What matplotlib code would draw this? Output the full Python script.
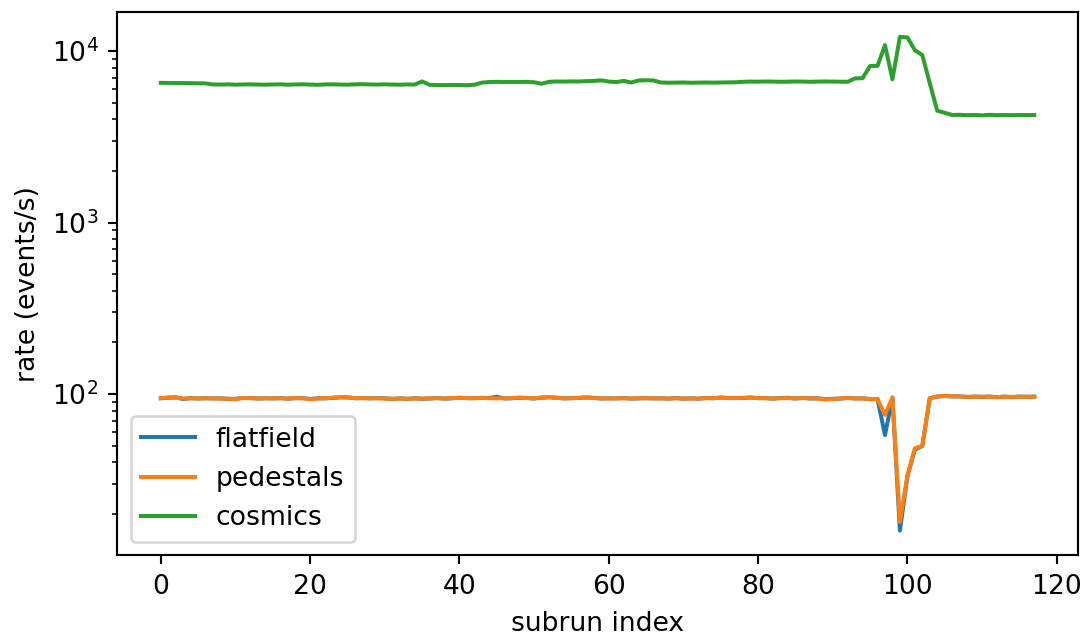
import matplotlib
matplotlib.use('Agg')
import matplotlib.pyplot as plt
import numpy as np

# rates per subrun (events/s)
pedestals = [
    94.8, 95.6, 95.2, 94.3, 94.5, 94.6, 94.4, 94.5, 94.2, 94.0,
    93.5, 95.0, 94.6, 94.5, 94.4, 94.6, 94.5, 94.3, 94.8, 94.5,
    93.4, 94.2, 94.7, 95.3, 96.0, 95.5, 94.8, 94.6, 94.7, 94.5,
    94.2, 94.0, 94.1, 94.0, 94.3, 94.2, 94.5, 94.6, 94.4, 94.8,
    95.0, 94.9, 94.5, 95.2, 94.6, 94.4, 94.6, 94.8, 95.4, 94.7,
    94.5, 95.6, 96.1, 95.0, 94.6, 94.5, 95.2, 95.8, 94.8, 94.5,
    94.3, 94.6, 94.5, 94.4, 94.7, 94.5, 94.6, 94.3, 94.4, 94.5,
    94.3, 94.2, 94.3, 94.6, 94.8, 95.2, 95.0, 94.6, 95.1, 95.3,
    94.9, 94.5, 94.4, 94.6, 94.8, 94.5, 94.7, 94.6, 94.2, 93.2,
    93.6, 94.4, 94.8, 94.6, 94.2, 93.8, 93.5, 75.6, 95.7, 18.0,
    33.5, 48.2, 50.0, 94.4, 97.0, 97.4, 97.2, 96.8, 96.5, 96.4,
    96.6, 96.5, 96.2, 96.4, 96.3, 96.5, 96.6, 96.4,
]

flatfield = [
    94.5, 95.2, 95.8, 93.6, 94.8, 94.2, 94.7, 94.3, 94.5, 93.8,
    93.9, 94.8, 94.9, 94.2, 94.6, 94.3, 94.8, 94.0, 94.6, 94.8,
    93.7, 94.5, 94.4, 95.0, 95.7, 95.8, 94.5, 94.9, 94.4, 94.8,
    94.5, 93.7, 94.4, 93.8, 94.6, 93.9, 94.2, 94.9, 94.1, 94.5,
    95.3, 94.6, 94.8, 94.9, 94.9, 96.6, 94.3, 94.5, 95.1, 95.0,
    94.2, 95.3, 95.8, 95.3, 94.3, 94.8, 94.9, 95.5, 95.1, 94.2,
    94.6, 94.3, 94.8, 94.1, 94.4, 94.8, 94.3, 94.6, 94.1, 94.8,
    94.0, 94.5, 94.0, 94.9, 94.5, 95.5, 94.7, 94.9, 94.8, 95.6,
    94.6, 94.8, 94.1, 94.9, 95.1, 94.2, 95.0, 94.3, 94.5, 93.5,
    93.9, 94.1, 95.1, 94.3, 94.5, 93.5, 93.8, 57.7, 95.5, 16.0,
    33.0, 47.5, 49.8, 94.7, 96.7, 97.7, 96.9, 97.1, 96.2, 96.7,
    96.3, 96.8, 95.9, 96.7, 96.0, 96.8, 96.3, 96.7,
]

cosmics = [
    6530, 6520, 6510, 6510, 6500, 6490, 6480, 6390, 6380, 6400,
    6370, 6390, 6400, 6380, 6370, 6390, 6400, 6370, 6390, 6400,
    6380, 6360, 6390, 6400, 6380, 6370, 6400, 6410, 6390, 6380,
    6400, 6380, 6370, 6390, 6380, 6650, 6360, 6340, 6330, 6350,
    6340, 6330, 6360, 6550, 6600, 6620, 6600, 6610, 6600, 6620,
    6580, 6450, 6620, 6650, 6640, 6660, 6650, 6680, 6700, 6750,
    6640, 6600, 6700, 6560, 6740, 6760, 6740, 6560, 6540, 6550,
    6560, 6540, 6550, 6560, 6550, 6560, 6570, 6580, 6620, 6640,
    6630, 6650, 6640, 6620, 6630, 6650, 6640, 6620, 6640, 6650,
    6640, 6630, 6620, 6930, 6950, 8180, 8200, 10840, 6840, 12110,
    12020, 10130, 9480, 6500, 4490, 4370, 4240, 4250, 4230, 4240,
    4220, 4250, 4230, 4240, 4230, 4240, 4235, 4240,
]

subrun = np.arange(len(cosmics))

dpi = 192
fig = plt.figure(figsize=(1085 / dpi, 639 / dpi), dpi=dpi)
ax = fig.add_subplot(111)
fig.subplots_adjust(left=0.108, right=0.9935, top=0.981, bottom=0.131)

ax.plot(subrun, flatfield, label='flatfield')
ax.plot(subrun, pedestals, label='pedestals')
ax.plot(subrun, cosmics, label='cosmics')

ax.set_yscale('log')
ax.set_xlabel('subrun index')
ax.set_ylabel('rate (events/s)')
ax.legend(loc='lower left')

fig.savefig('out.png', dpi=dpi)
